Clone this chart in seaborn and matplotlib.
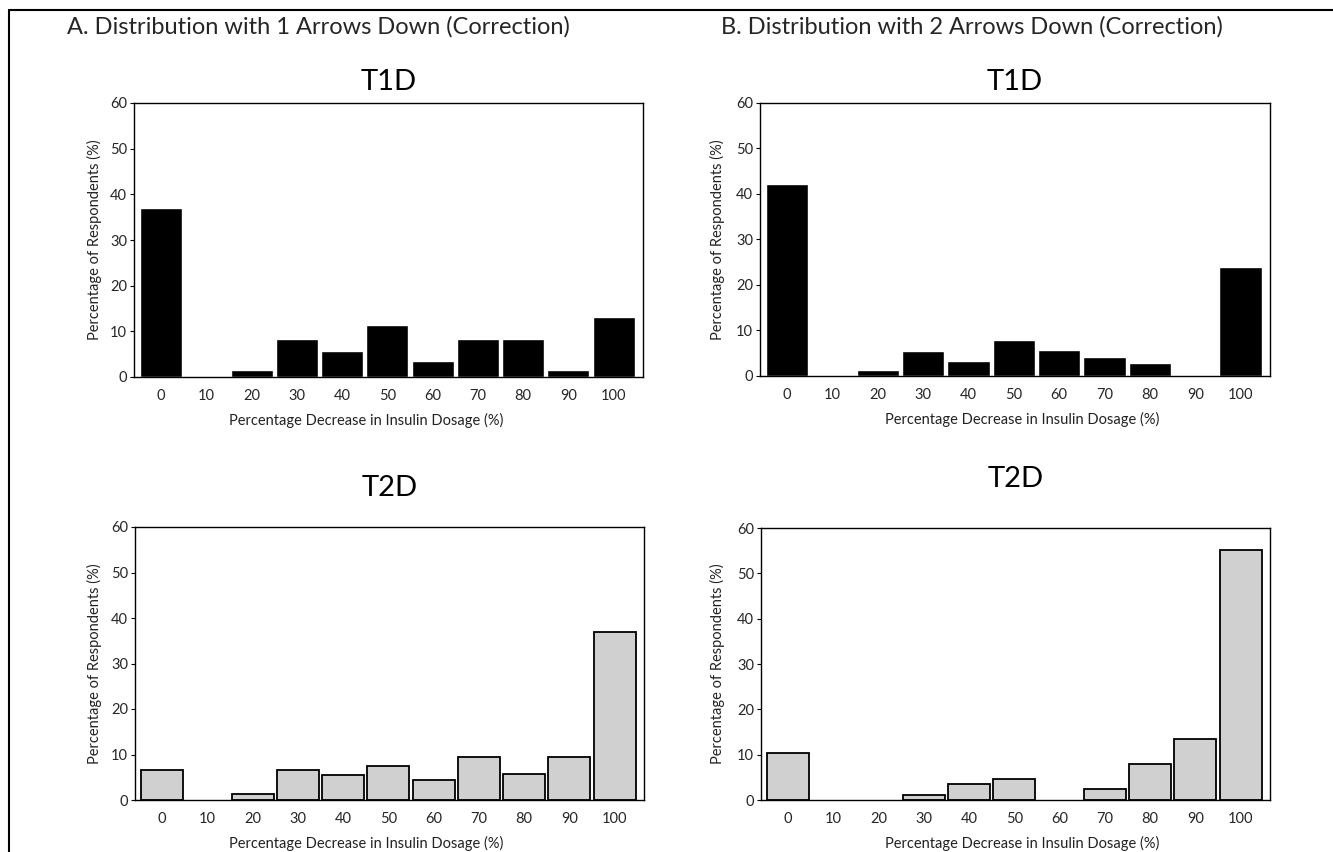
import matplotlib
matplotlib.use("Agg")
import matplotlib.pyplot as plt
import seaborn as sns
import pandas as pd
from matplotlib.lines import Line2D

sns.set_theme(style="white")
plt.rcParams['font.family'] = ['Lato', 'DejaVu Sans']

categories = ["0", "10", "20", "30", "40", "50", "60", "70", "80", "90", "100"]
a_t1d = [37.1, 0, 1.6, 8.3, 5.7, 11.4, 3.6, 8.3, 8.3, 1.5, 13.2]
a_t2d = [6.5, 0, 1.25, 6.5, 5.4, 7.5, 4.5, 9.5, 5.7, 9.5, 36.9]
b_t1d = [42.1, 0, 1.4, 5.4, 3.4, 8.0, 5.8, 4.1, 2.8, 0, 23.9]
b_t2d = [10.4, 0, 0, 1.0, 3.5, 4.7, 0, 2.4, 8.0, 13.5, 55.1]

panel_titles = ["A. Distribution with 1 Arrows Down (Correction)",
                "B. Distribution with 2 Arrows Down (Correction)"]
xlabel = "Percentage Decrease in Insulin Dosage (%)"
ylabel = "Percentage of Respondents (%)"

W, H = 1333, 852
fig = plt.figure(figsize=(W / 100, H / 100), dpi=100)

def px_axes(x0, y0, x1, y1):
    return fig.add_axes([x0 / W, 1 - y1 / H, (x1 - x0) / W, (y1 - y0) / H])

# data, title, box (px), face, edge, lw, title y (px), xlabel centre x (px), ylabel x (px)
specs = [
    (a_t1d, "T1D", (134, 103, 643, 377), "black", "white", 1.0, 82, 366, 94),
    (b_t1d, "T1D", (760, 103, 1270, 376), "black", "white", 1.0, 82, 1022, 717),
    (a_t2d, "T2D", (135, 527, 644, 800), "#d0d0d0", "black", 1.3, 488, 366, 94),
    (b_t2d, "T2D", (761, 528, 1270, 800), "#d0d0d0", "black", 1.3, 479, 1022, 717),
]

for vals, title, box, fc, ec, lw, ty, xlx, ylx in specs:
    ax = px_axes(*box)
    df = pd.DataFrame({"cat": categories, "val": vals})
    sns.barplot(data=df, x="cat", y="val", order=categories, ax=ax,
                color=fc, edgecolor=ec, linewidth=lw, width=0.93,
                saturation=1, errorbar=None)
    for p in ax.patches:
        if p.get_height() == 0:
            p.set_visible(False)
    ax.set_xlim(-0.6, 10.65)
    ax.set_ylim(0, 60)
    ax.set_yticks(range(0, 61, 10))
    ax.set_xlabel(xlabel, fontsize=10.5, color="#222222")
    ax.set_ylabel(ylabel, fontsize=10.5, color="#222222")
    bw = box[2] - box[0]
    bh = box[3] - box[1]
    ax.xaxis.set_label_coords((xlx - box[0]) / bw, -43 / bh)
    ax.yaxis.set_label_coords((ylx - box[0]) / bw, 0.5)
    ax.xaxis.label.set_va("center")
    ax.yaxis.label.set_va("center")
    ax.tick_params(axis="y", length=3, width=0.8, color="black", labelsize=10.5, pad=2, left=True)
    ax.tick_params(axis="x", length=0, labelsize=10.5, pad=8.5)
    for s in ax.spines.values():
        s.set_visible(True)
        s.set_color("black")
        s.set_linewidth(1.0)
    cx = (box[0] + box[2]) / 2
    fig.text(cx / W, 1 - ty / H, title, ha="center", va="center", fontsize=21, color="black")

fig.text(318 / W, 1 - 27 / H, panel_titles[0], ha="center", va="center", fontsize=17)
fig.text(972 / W, 1 - 27 / H, panel_titles[1], ha="center", va="center", fontsize=17)

fig.add_artist(Line2D([9 / W, 1], [1 - 9.5 / H, 1 - 9.5 / H], color="black", lw=1.5,
                      transform=fig.transFigure))
fig.add_artist(Line2D([9 / W, 9 / W], [0, 1 - 9.5 / H], color="black", lw=1.5,
                      transform=fig.transFigure))

fig.savefig("out.png", dpi=100)
